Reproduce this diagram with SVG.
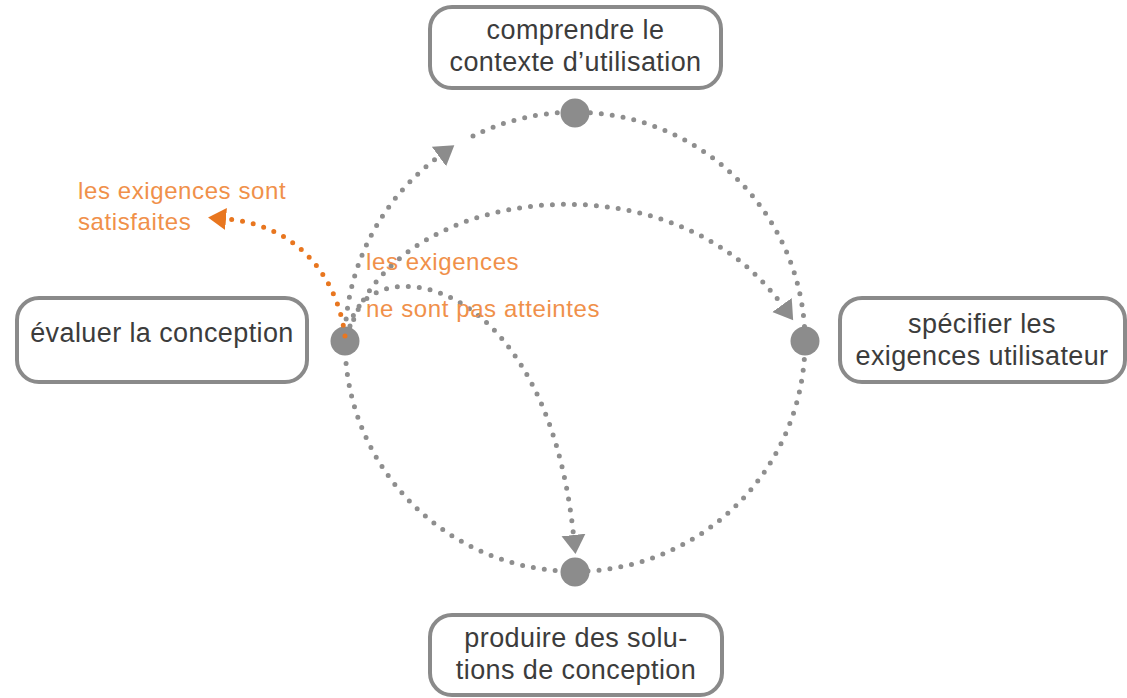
<svg xmlns="http://www.w3.org/2000/svg" width="1127" height="698" viewBox="0 0 1127 698">
<style>
.box{fill:#ffffff;stroke:#8a8a8a;stroke-width:4}
.lbl{font-family:"Liberation Sans",Arial,sans-serif;font-size:27px;letter-spacing:0.4px;fill:#3c3c3c;text-anchor:middle}
.olbl{font-family:"Liberation Sans",Arial,sans-serif;font-size:24px;letter-spacing:0.6px;fill:#f0904a}
.dot{fill:none;stroke:#8e8e8e;stroke-width:5;stroke-linecap:round;stroke-dasharray:0 11}
.odot{fill:none;stroke:#e8761f;stroke-width:5;stroke-linecap:round;stroke-dasharray:0 11}
.hub{fill:#8c8c8c}
</style>
<defs>
<marker id="ag" viewBox="0 -13 20 26" refX="0" refY="0" markerWidth="20" markerHeight="26" markerUnits="userSpaceOnUse" orient="auto">
<path d="M0,-12 L19,0 L0,12 z" fill="#8c8c8c"/>
</marker>
<marker id="ao" viewBox="0 -13 20 26" refX="0" refY="0" markerWidth="20" markerHeight="26" markerUnits="userSpaceOnUse" orient="auto">
<path d="M0,-11 L18,0 L0,11 z" fill="#e8761f"/>
</marker>
</defs>
<g id="connectors">
<path class="dot" d="M345 341 A230 230 0 0 1 439 156.5" marker-end="url(#ag)"/>
<path class="dot" d="M473 136 A230 230 0 0 1 805 342 A230 230 0 0 1 345 341"/>
<path class="dot" d="M350 330 C395 185 670 151 782 305" marker-end="url(#ag)"/>
<path class="dot" d="M350 326 C365 250 545 265 573.5 535" marker-end="url(#ag)"/>
</g>
<g id="hubs">
<circle class="hub" cx="575" cy="113" r="14.5"/>
<circle class="hub" cx="805" cy="341" r="14.5"/>
<circle class="hub" cx="575" cy="572" r="14.5"/>
<circle class="hub" cx="345" cy="341" r="14.5"/>
</g>
<g id="exit-connector">
<path class="odot" d="M345 336 C338 280 300 225 226 219" marker-end="url(#ao)"/>
</g>
<g id="node-contexte">
<rect class="box" x="430" y="7" width="291" height="81" rx="22"/>
<text class="lbl" x="575.5" y="39">comprendre le</text>
<text class="lbl" x="575.5" y="71">contexte d’utilisation</text>
</g>
<g id="node-exigences">
<rect class="box" x="840" y="298" width="285" height="84" rx="22"/>
<text class="lbl" x="982" y="333">spécifier les</text>
<text class="lbl" x="982" y="365">exigences utilisateur</text>
</g>
<g id="node-solutions">
<rect class="box" x="430" y="615" width="292" height="80" rx="22"/>
<text class="lbl" x="576" y="647">produire des solu-</text>
<text class="lbl" x="576" y="679">tions de conception</text>
</g>
<g id="node-evaluer">
<rect class="box" x="17" y="298" width="290" height="84" rx="22"/>
<text class="lbl" x="162" y="342">évaluer la conception</text>
</g>
<g id="labels">
<text class="olbl" x="78" y="199">les exigences sont</text>
<text class="olbl" x="78" y="230">satisfaites</text>
<text class="olbl" x="366" y="270">les exigences</text>
<text class="olbl" x="366" y="317">ne sont pas atteintes</text>
</g>
</svg>
